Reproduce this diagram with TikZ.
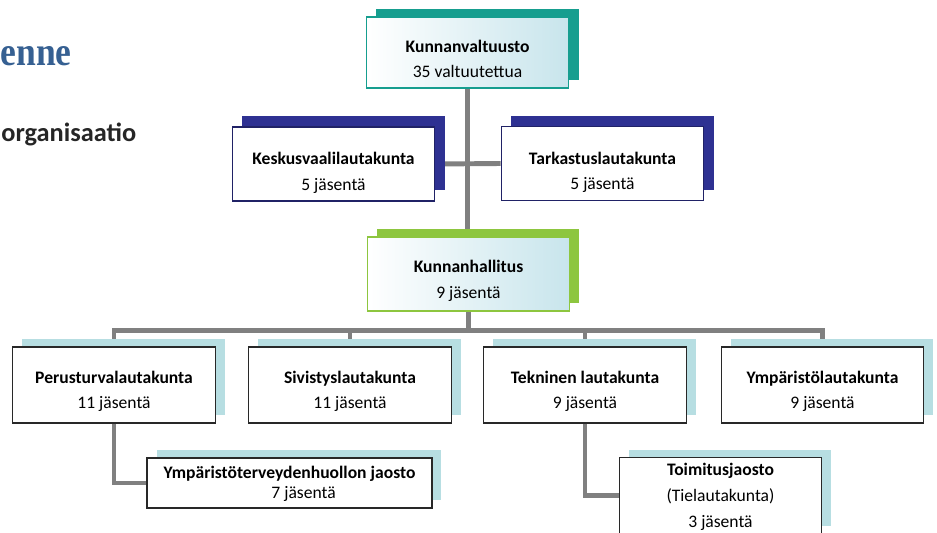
\documentclass[tikz,border=0pt]{standalone}
\usepackage{fontspec}
\setmainfont{Carlito}
\newfontfamily\headfont{Liberation Serif}
\usepackage{tikz}
\usetikzlibrary{shadows,backgrounds}
\definecolor{headblue}{RGB}{54,96,146}
\definecolor{tealshd}{RGB}{22,158,143}
\definecolor{navyshd}{RGB}{46,49,146}
\definecolor{greenshd}{RGB}{141,198,63}
\definecolor{paleshd}{RGB}{183,222,226}
\definecolor{paleblue}{RGB}{200,229,236}
\definecolor{linegray}{RGB}{128,128,128}
\definecolor{boxline}{RGB}{40,40,40}
\newcommand{\boxhead}[2][14pt]{\rule{0pt}{#1}\textbf{#2}}

\begin{document}
\begin{tikzpicture}
        [x=0.02cm, y=-0.02cm,
        bstyle/.style={draw=boxline, fill=white, line width=0.7pt, minimum width=4.05cm, minimum height=1.52cm, align=center, inner sep=0pt, font=\fontsize{10}{14.5}\selectfont},
        tealbox/.style={bstyle, draw=tealshd, left color=white, right color=paleblue, minimum height=1.42cm, general shadow={fill=tealshd, shadow xshift=5.7pt, shadow yshift=4.5pt}},
        navybox/.style={bstyle, draw=navyshd!70!black, minimum height=1.48cm, general shadow={fill=navyshd, shadow xshift=5.7pt, shadow yshift=6.2pt}},
        greenbox/.style={bstyle, draw=greenshd, left color=white, right color=paleblue, minimum height=1.48cm, general shadow={fill=greenshd, shadow xshift=5.4pt, shadow yshift=4.5pt}},
        palebox/.style={bstyle, general shadow={fill=paleshd, shadow xshift=5.4pt, shadow yshift=4.5pt}},
        cstyle/.style={draw=linegray, line width=2.8pt}]

        \useasboundingbox (0,0) rectangle (937,532);

        \node[anchor=base east, inner sep=0pt, text=headblue, font=\headfont\bfseries\fontsize{23}{26}\selectfont] (heading) at (72,65) {\scalebox{0.88}[1]{enne}};
        \node[anchor=base west, inner sep=0pt, text=black!85, font=\bfseries\fontsize{15}{18}\selectfont] (subheading) at (1,141) {organisaatio};

        \node[tealbox] (valtuusto) at (467.5,52.5) {\boxhead{Kunnanvaltuusto}\\35 valtuutettua};
        \node[navybox] (keskusvaali) at (333.5,164) {\boxhead[17pt]{Keskusvaalilautakunta}\\5 jäsentä};
        \node[navybox] (tarkastus) at (602.5,163.5) {\boxhead[17pt]{Tarkastuslautakunta}\\5 jäsentä};
        \node[greenbox] (hallitus) at (468.5,274) {\boxhead[15pt]{Kunnanhallitus}\\9 jäsentä};

        \node[palebox] (perusturva) at (114,385) {\boxhead{Perusturvalautakunta}\\11 jäsentä};
        \node[palebox] (sivistys) at (350,385) {\boxhead{Sivistyslautakunta}\\11 jäsentä};
        \node[palebox] (tekninen) at (585,385) {\boxhead{Tekninen lautakunta}\\9 jäsentä};
        \node[palebox] (ymparisto) at (822.5,385) {\boxhead{Ympäristölautakunta}\\9 jäsentä};

        \node[palebox, minimum width=5.7cm, minimum height=1cm, font=\fontsize{10}{11.5}\selectfont] (terveys) at (289.5,483) {\boxhead[8pt]{Ympäristöterveydenhuollon jaosto}\\\hspace*{16pt}7 jäsentä};
        \node[palebox, font=\fontsize{10}{14.8}\selectfont] (toimitus) at (720.5,495.5) {\boxhead[8pt]{Toimitusjaosto}\\(Tielautakunta)\\3 jäsentä};

        \coordinate (bus) at (468.5,330.5);

        \begin{pgfonlayer}{background}
        \fill[white] (0,0) rectangle (937,532);
        \draw[cstyle] (valtuusto.south) -- (valtuusto.south |- hallitus.north);
        \draw[cstyle] (keskusvaali.east) -- (tarkastus.west);
        \draw[cstyle] (hallitus.south) -- (bus);
        \draw[cstyle] (perusturva.north) -- (perusturva.north |- bus) -- (ymparisto.north |- bus) -- (ymparisto.north);
        \draw[cstyle] (sivistys.north) -- (sivistys.north |- bus);
        \draw[cstyle] (tekninen.north) -- (tekninen.north |- bus);
        \draw[cstyle] (perusturva.south) |- (terveys.west);
        \draw[cstyle] (tekninen.south) |- (toimitus.west);
        \end{pgfonlayer}
    \end{tikzpicture}
\end{document}
